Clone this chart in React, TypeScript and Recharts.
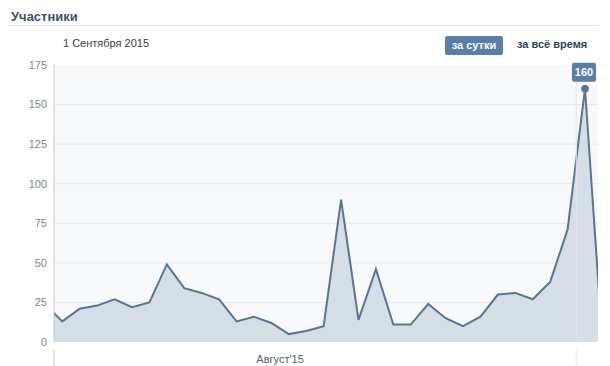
import {
  Area,
  AreaChart,
  CartesianGrid,
  ReferenceDot,
  ReferenceLine,
  XAxis,
  YAxis,
} from "recharts";

// дни: 1 = 1 августа, 32 = 1 сентября, 33 = 2 сентября (неполный)
const days = [
  1, 2, 3, 4, 5, 6, 7, 8, 9, 10, 11, 12, 13, 14, 15, 16, 17, 18, 19, 20, 21,
  22, 23, 24, 25, 26, 27, 28, 29, 30, 31, 32, 33,
];
const members = [
  24, 13, 21, 23, 27, 22, 25, 49, 34, 31, 27, 13, 16, 12, 5, 7, 10, 90, 14, 46,
  11, 11, 24, 15, 10, 16, 30, 31, 27, 38, 71, 160, 0,
];
const yTicks = [0, 25, 50, 75, 100, 125, 150, 175];
const xDomain = [1.524, 32.746];
const monthLabels = [{ day: 14.5, label: "Август'15" }];
const monthBoundaries = [31.5];
const selectedDay = 32;
const selectedValue = 160;

const data = days.map((day, i) => ({ day, value: members[i] }));

const FONT = "'Liberation Sans', Arial, sans-serif";
const BLUE = "#5b7ea6";

function MonthTick({
  x,
  y,
  payload,
}: {
  x?: number;
  y?: number;
  payload?: { value: number };
}) {
  const label = monthLabels.find((m) => m.day === payload?.value);
  if (label) {
    return (
      <text
        x={x}
        y={(y ?? 0) + 13}
        textAnchor="middle"
        fill="#4f5e70"
        fontSize={11}
        fontFamily={FONT}
      >
        {label.label}
      </text>
    );
  }
  const isAxis = payload?.value === xDomain[0];
  return (
    <line
      x1={x}
      x2={x}
      y1={y}
      y2={(y ?? 0) + 24}
      stroke={isAxis ? "#c3c9d1" : "#e6eaee"}
      strokeWidth={1}
    />
  );
}

function PeakLabel({ viewBox }: { viewBox?: { x: number; y: number; width: number } }) {
  if (!viewBox) return null;
  const cx = viewBox.x + viewBox.width / 2;
  return (
    <g>
      <rect x={cx - 13} y={viewBox.y - 22.5} width={24} height={19} rx={2} fill={BLUE} />
      <text
        x={cx - 1}
        y={viewBox.y - 9}
        textAnchor="middle"
        fill="#fff"
        fontSize={11}
        fontWeight="bold"
        fontFamily={FONT}
      >
        {selectedValue}
      </text>
    </g>
  );
}

export default function App() {
  return (
    <div
      style={{
        position: "absolute",
        left: 0,
        top: 0,
        width: 610,
        height: 366,
        background: "#fff",
        fontFamily: FONT,
        overflow: "hidden",
      }}
    >
      <div
        style={{
          position: "absolute",
          left: 11,
          top: 9,
          fontSize: 13,
          fontWeight: "bold",
          color: "#3f5068",
        }}
      >
        Участники
      </div>
      <div
        style={{
          position: "absolute",
          left: 8,
          top: 25,
          width: 590,
          height: 1,
          background: "#dfe3e8",
        }}
      />
      <div
        style={{ position: "absolute", left: 63, top: 37, fontSize: 11, color: "#3a3a3a" }}
      >
        1 Сентября 2015
      </div>
      <div
        style={{
          position: "absolute",
          left: 445,
          top: 36,
          width: 58,
          height: 19,
          borderRadius: 2,
          background: BLUE,
          color: "#fff",
          fontSize: 11,
          fontWeight: "bold",
          lineHeight: "19px",
          textAlign: "center",
        }}
      >
        за сутки
      </div>
      <div
        style={{
          position: "absolute",
          left: 517,
          top: 38,
          fontSize: 11,
          fontWeight: "bold",
          color: "#2e3f55",
        }}
      >
        за всё время
      </div>

      <div style={{ position: "absolute", left: 0, top: 0 }}>
        <AreaChart
          width={610}
          height={366}
          data={data}
          margin={{ top: 65, right: 12, bottom: 0, left: 0 }}
        >
          <CartesianGrid
            vertical={false}
            stroke="#e6e9ed"
            fill="#f8f9fa"
            horizontalValues={yTicks.slice(1, -1)}
          />
          <XAxis
            type="number"
            dataKey="day"
            domain={xDomain}
            allowDataOverflow
            ticks={[xDomain[0], ...monthLabels.map((m) => m.day), ...monthBoundaries]}
            interval={0}
            axisLine={false}
            tickLine={false}
            height={24}
            tick={<MonthTick />}
          />
          <YAxis
            domain={[0, 175]}
            ticks={yTicks}
            width={54}
            interval={0}
            axisLine={{ stroke: "#c3c9d1" }}
            tickLine={false}
            tickMargin={1}
            tick={{ fill: "#7f858c", fontSize: 11, fontFamily: FONT }}
          />
          <Area
            type="linear"
            dataKey="value"
            stroke="#5a7491"
            strokeWidth={2}
            fill="#d6dee7"
            fillOpacity={1}
            dot={false}
            activeDot={false}
            isAnimationActive={false}
          />
          {monthBoundaries.map((d) => (
            <ReferenceLine key={d} x={d} stroke="#e3e8ee" />
          ))}
          <ReferenceDot
            x={selectedDay}
            y={selectedValue}
            r={3.5}
            fill="#5a7491"
            stroke="#5a7491"
            label={<PeakLabel />}
          />
        </AreaChart>
      </div>
    </div>
  );
}
